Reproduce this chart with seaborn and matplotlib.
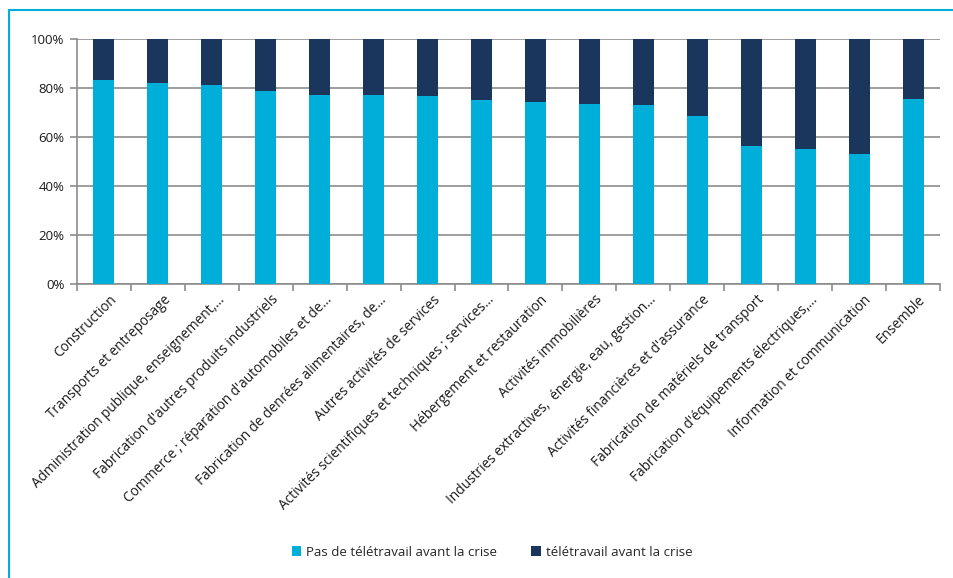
import matplotlib
matplotlib.use("Agg")
import matplotlib.pyplot as plt
import matplotlib.transforms as mtransforms
import seaborn as sns
import pandas as pd
import numpy as np
from matplotlib.lines import Line2D
from matplotlib.patches import Patch

secteurs = [
    "Construction",
    "Transports et entreposage",
    "Administration publique, enseignement,…",
    "Fabrication d'autres produits industriels",
    "Commerce ; réparation d'automobiles et de…",
    "Fabrication de denrées alimentaires, de…",
    "Autres activités de services",
    "Activités scientifiques et techniques ; services…",
    "Hébergement et restauration",
    "Activités immobilières",
    "Industries extractives,  énergie, eau, gestion…",
    "Activités financières et d'assurance",
    "Fabrication de matériels de transport",
    "Fabrication d'équipements électriques,…",
    "Information et communication",
    "Ensemble",
]
pas_teletravail = [83.1, 81.9, 81.1, 78.9, 77.0, 77.0, 76.6, 75.3,
                   74.1, 73.3, 72.9, 68.4, 56.4, 55.3, 53.1, 75.7]
teletravail = [100 - v for v in pas_teletravail]

c_light = "#00AEDA"
c_dark = "#1A365D"
grid_c = "#8C8C8C"

df = pd.DataFrame({
    "secteur": secteurs,
    "pas": pas_teletravail,
    "tele": teletravail,
})
df["total"] = df["pas"] + df["tele"]

sns.set_theme(style="white")
plt.rcParams["font.family"] = ["Open Sans", "DejaVu Sans"]

fig = plt.figure(figsize=(9.54, 5.78), dpi=100)
ax = fig.add_axes([77 / 954, 1 - 284 / 578, (940 - 77) / 954, (284 - 39) / 578])

# stacked bars: full stack in dark, lower segment in light on top
sns.barplot(data=df, x="secteur", y="total", color=c_dark, width=0.39,
            saturation=1, ax=ax, zorder=3, linewidth=0)
sns.barplot(data=df, x="secteur", y="pas", color=c_light, width=0.39,
            saturation=1, ax=ax, zorder=4, linewidth=0)

ax.set_xlim(-0.5, len(secteurs) - 0.5)
ax.set_ylim(0, 100)
ax.set_yticks(np.arange(0, 101, 20))
ax.set_yticklabels([f"{v}%" for v in range(0, 101, 20)], fontsize=9.5, color="#1a1a1a")
ax.yaxis.grid(True, color=grid_c, linewidth=1.2, zorder=0)
ax.set_axisbelow(True)
ax.set_xlabel("")
ax.set_ylabel("")

for s in ["top", "right"]:
    ax.spines[s].set_visible(False)
for s in ["left", "bottom"]:
    ax.spines[s].set_color(grid_c)
    ax.spines[s].set_linewidth(1.2)

ax.tick_params(axis="y", which="major", length=5, width=1.2, color=grid_c, left=True, pad=4)
ax.set_xticks(np.arange(len(secteurs)))
ax.set_xticklabels(secteurs, rotation=45, ha="right", va="top",
                   rotation_mode="anchor", fontsize=9.8, color="#1a1a1a")
ax.tick_params(axis="x", which="major", length=0, pad=6)
shift = mtransforms.ScaledTranslation(5 / 100, 0, fig.dpi_scale_trans)
for lbl in ax.get_xticklabels():
    lbl.set_transform(lbl.get_transform() + shift)
ax.set_xticks(np.arange(-0.5, len(secteurs), 1.0), minor=True)
ax.tick_params(axis="x", which="minor", length=5, width=1.2, color=grid_c, bottom=True)

handles = [Patch(facecolor=c_light, edgecolor="none", label="Pas de télétravail avant la crise"),
           Patch(facecolor=c_dark, edgecolor="none", label="télétravail avant la crise")]
fig.legend(handles=handles, loc="center", bbox_to_anchor=(492 / 954, 1 - 552 / 578),
           ncol=2, frameon=False, fontsize=9.5, handlelength=0.7, handleheight=0.7,
           columnspacing=2.6, handletextpad=0.4)

# cyan frame along the top and left edges
fig.add_artist(Line2D([9 / 954, 1.0], [1 - 10 / 578, 1 - 10 / 578],
                      transform=fig.transFigure, color=c_light, linewidth=1.5))
fig.add_artist(Line2D([9 / 954, 9 / 954], [0, 1 - 10 / 578],
                      transform=fig.transFigure, color=c_light, linewidth=1.5))

fig.savefig("out.png", dpi=100)
